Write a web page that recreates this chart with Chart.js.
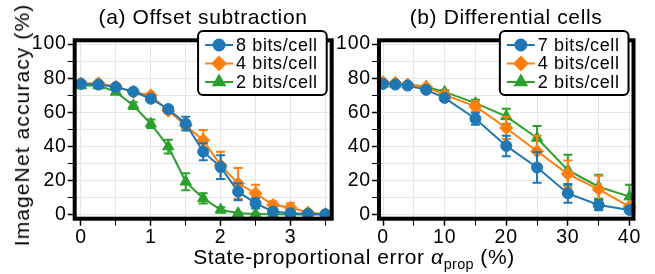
<!DOCTYPE html>
<html>
<head>
<meta charset="utf-8">
<script src="https://cdn.jsdelivr.net/npm/chart.js@4/dist/chart.umd.min.js"></script>
<style>
body { margin: 0; background: #fff; }
#wrap { position: relative; width: 655px; height: 274px; overflow: hidden; font-family: "Liberation Sans", Arial, sans-serif; color: #000; }
canvas { position: absolute; left: 0; top: 0; }
.t { position: absolute; font-size: 21px; letter-spacing: 0.6px; white-space: nowrap; transform: translateX(-50%); line-height: 24px; }
.t sub { font-size: 14.5px; letter-spacing: 0.3px; line-height: 0; }
#ylab { position: absolute; left: 22px; top: 125px; font-size: 21px; letter-spacing: 1.1px; white-space: nowrap; line-height: 24px; transform: translate(-50%, -50%) rotate(-90deg); }
</style>
</head>
<body>
<div id="wrap">
  <canvas id="chartA" width="655" height="274"></canvas>
  <canvas id="chartB" width="655" height="274"></canvas>
  <div class="t" style="left:203px;top:5px">(a) Offset subtraction</div>
  <div class="t" style="left:506px;top:5px">(b) Differential cells</div>
  <div class="t" style="left:354px;top:245px">State-proportional error <i>α</i><sub>prop</sub> (%)</div>
  <div id="ylab">ImageNet accuracy (%)</div>
</div>
<script>
const FONT = "'Liberation Sans', Arial, sans-serif";
const colors = ["#1f77b4", "#ff7f0e", "#2ca02c"];
const markers = ["circle", "rectRot", "triangle"];
const markerSize = [5.5, 6.5, 6.5];

// (a) offset subtraction
const offsetX = [0, 0.25, 0.5, 0.75, 1, 1.25, 1.5, 1.75, 2, 2.25, 2.5, 2.75, 3, 3.25, 3.5];
const offsetLabels = ["8 bits/cell", "4 bits/cell", "2 bits/cell"];
const offset8 = [76.7, 76.3, 74.8, 72.2, 68, 62, 53.4, 37, 28, 13.6, 6.8, 2, 1, 0.6, 0.4];
const offset8Err = [0.5, 0.5, 0.5, 0.5, 1, 1.5, 4, 5, 7, 5, 3, 1, 0.5, 0.5, 0.5];
const offset4 = [77, 77, 75, 72, 70, 61, 52.4, 43.7, 29, 18.4, 12.6, 5.8, 4.3, 1.4, 0.6];
const offset4Err = [0.5, 0.5, 0.5, 0.5, 1, 1.5, 2, 6, 8, 9, 5, 2, 2.5, 1, 0.5];
const offset2 = [75.7, 75.7, 72, 64, 53.4, 40, 19.4, 9.7, 3, 1, 0.6, 0.4, 0.3, 0.3, 0.3];
const offset2Err = [0.5, 0.5, 1, 2, 2.5, 4, 5, 3, 1.5, 0.5, 0.3, 0.2, 0.2, 0.2, 0.2];
const offsetGrid = [0, 0.5, 1, 1.5, 2, 2.5, 3, 3.5];
const offsetTickLabels = [0, 1, 2, 3];

// (b) differential cells
const diffX = [0, 2, 4, 7, 10, 15, 20, 25, 30, 35, 40];
const diffLabels = ["7 bits/cell", "4 bits/cell", "2 bits/cell"];
const diff7 = [76.7, 76.3, 75.7, 73.2, 68.5, 56.3, 40.4, 27.8, 12.6, 5.8, 2.9];
const diff7Err = [0.5, 0.5, 0.5, 1, 1.5, 3.5, 6, 9, 5.5, 3, 1];
const diff4 = [77.7, 77.3, 76.3, 74.8, 70.3, 63.5, 50.9, 37.3, 23.9, 15, 4.9];
const diff4Err = [0.5, 0.5, 0.5, 0.5, 1, 3, 6.5, 9, 8, 8, 1.5];
const diff2 = [76.7, 76.7, 76.3, 75, 72, 65.4, 57.7, 45, 26.2, 16.5, 10.7];
const diff2Err = [0.5, 0.5, 0.5, 0.5, 1, 2, 4.5, 7, 9, 7, 7];
const diffGrid = [0, 5, 10, 15, 20, 25, 30, 35, 40];
const diffTickLabels = [0, 10, 20, 30, 40];

const yGrid = [0, 10, 20, 30, 40, 50, 60, 70, 80, 90, 100];
const yTickLabels = [0, 20, 40, 60, 80, 100];

// wider text like the original
const spacing = {
  id: "spacing",
  beforeLayout(chart) { chart.ctx.letterSpacing = "0.8px"; },
  beforeDraw(chart) { chart.ctx.letterSpacing = "0.8px"; }
};

const errorBars = {
  id: "errorBars",
  beforeDatasetDraw(chart, args) {
    const ds = chart.data.datasets[args.index];
    const xs = chart.scales.x, ys = chart.scales.y, ctx = chart.ctx;
    ctx.save();
    ctx.strokeStyle = ds.borderColor;
    ctx.lineWidth = 2;
    ds.data.forEach((p, i) => {
      const e = ds.err[i];
      const px = xs.getPixelForValue(p.x);
      const lo = ys.getPixelForValue(p.y - e), hi = ys.getPixelForValue(p.y + e);
      ctx.beginPath();
      ctx.moveTo(px, lo); ctx.lineTo(px, hi);
      ctx.moveTo(px - 4.5, lo); ctx.lineTo(px + 4.5, lo);
      ctx.moveTo(px - 4.5, hi); ctx.lineTo(px + 4.5, hi);
      ctx.stroke();
    });
    ctx.restore();
  }
};

const frameLegend = {
  id: "frameLegend",
  afterDraw(chart) {
    const { ctx, chartArea: a } = chart;
    ctx.save();
    ctx.lineWidth = 4;
    ctx.strokeStyle = "#000";
    ctx.strokeRect(a.left, a.top, a.right - a.left, a.bottom - a.top);

    ctx.font = "18px " + FONT;
    ctx.letterSpacing = "0.6px";
    const sets = chart.data.datasets;
    const tw = Math.max(...sets.map(d => ctx.measureText(d.label).width));
    const w = 7 + 28 + 3 + tw + 9, h = 64;
    const bx = a.right - 5 - w, by = a.top - 9.3;
    ctx.beginPath();
    ctx.roundRect(bx, by, w, h, 5);
    ctx.fillStyle = "#fff";
    ctx.fill();
    ctx.lineWidth = 2;
    ctx.strokeStyle = "#000";
    ctx.stroke();
    sets.forEach((d, i) => {
      const cy = by + 14 + i * 18.5;
      ctx.strokeStyle = d.borderColor;
      ctx.lineWidth = 2;
      ctx.beginPath(); ctx.moveTo(bx + 7, cy); ctx.lineTo(bx + 35, cy); ctx.stroke();
      ctx.fillStyle = d.backgroundColor;
      Chart.helpers.drawPoint(ctx, { pointStyle: d.pointStyle, radius: d.pointRadius, borderWidth: 1, rotation: 0 }, bx + 21, cy);
      ctx.fillStyle = "#000";
      ctx.textBaseline = "middle";
      ctx.textAlign = "left";
      ctx.fillText(d.label, bx + 38, cy + 1);
    });
    ctx.restore();
  }
};

function makeChart(id, xs, labels, ys, errs, grid, tickLabels, xMin, xMax, pad) {
  const datasets = labels.map((label, k) => ({
    label,
    data: xs.map((x, i) => ({ x, y: ys[k][i] })),
    err: errs[k],
    borderColor: colors[k],
    backgroundColor: colors[k],
    pointStyle: markers[k],
    pointRadius: markerSize[k],
    pointHoverRadius: markerSize[k],
    pointBorderWidth: 1,
    borderWidth: 2,
    clip: false
  }));
  const tickFont = { family: FONT, size: 19.5 };
  return new Chart(document.getElementById(id), {
    type: "line",
    data: { datasets },
    options: {
      responsive: false,
      animation: false,
      events: [],
      layout: { padding: pad },
      plugins: { legend: { display: false }, tooltip: { enabled: false } },
      scales: {
        x: {
          type: "linear", min: xMin, max: xMax,
          afterBuildTicks: s => { s.ticks = grid.map(v => ({ value: v })); },
          afterFit: s => { s.height = 30; },
          border: { display: false },
          grid: { color: "#e6e6e6", tickColor: "#000", tickLength: 7,
                  tickWidth: c => tickLabels.includes(c.tick && c.tick.value) ? 1.5 : 1 },
          ticks: { color: "#000", font: tickFont, padding: 0, maxRotation: 0, autoSkip: false,
                   callback: v => tickLabels.includes(v) ? String(v) : "" }
        },
        y: {
          min: -2.2, max: 102.2,
          afterBuildTicks: s => { s.ticks = yGrid.map(v => ({ value: v })); },
          afterFit: s => { s.width = 44; },
          border: { display: false },
          grid: { color: "#e6e6e6", tickColor: "#000", tickLength: 7,
                  tickWidth: c => yTickLabels.includes(c.tick && c.tick.value) ? 1.5 : 1 },
          ticks: { color: "#000", font: tickFont, padding: 1, autoSkip: false,
                   callback: v => yTickLabels.includes(v) ? String(v) : "" }
        }
      }
    },
    plugins: [spacing, errorBars, frameLegend]
  });
}

makeChart("chartA", offsetX, offsetLabels, [offset8, offset4, offset2], [offset8Err, offset4Err, offset2Err],
  offsetGrid, offsetTickLabels, -0.09, 3.59, { left: 30.7, right: 323.3, top: 40.3, bottom: 25.3 });
makeChart("chartB", diffX, diffLabels, [diff7, diff4, diff2], [diff7Err, diff4Err, diff2Err],
  diffGrid, diffTickLabels, -0.65, 40.65, { left: 335, right: 21.5, top: 40.3, bottom: 25.3 });
</script>
</body>
</html>
